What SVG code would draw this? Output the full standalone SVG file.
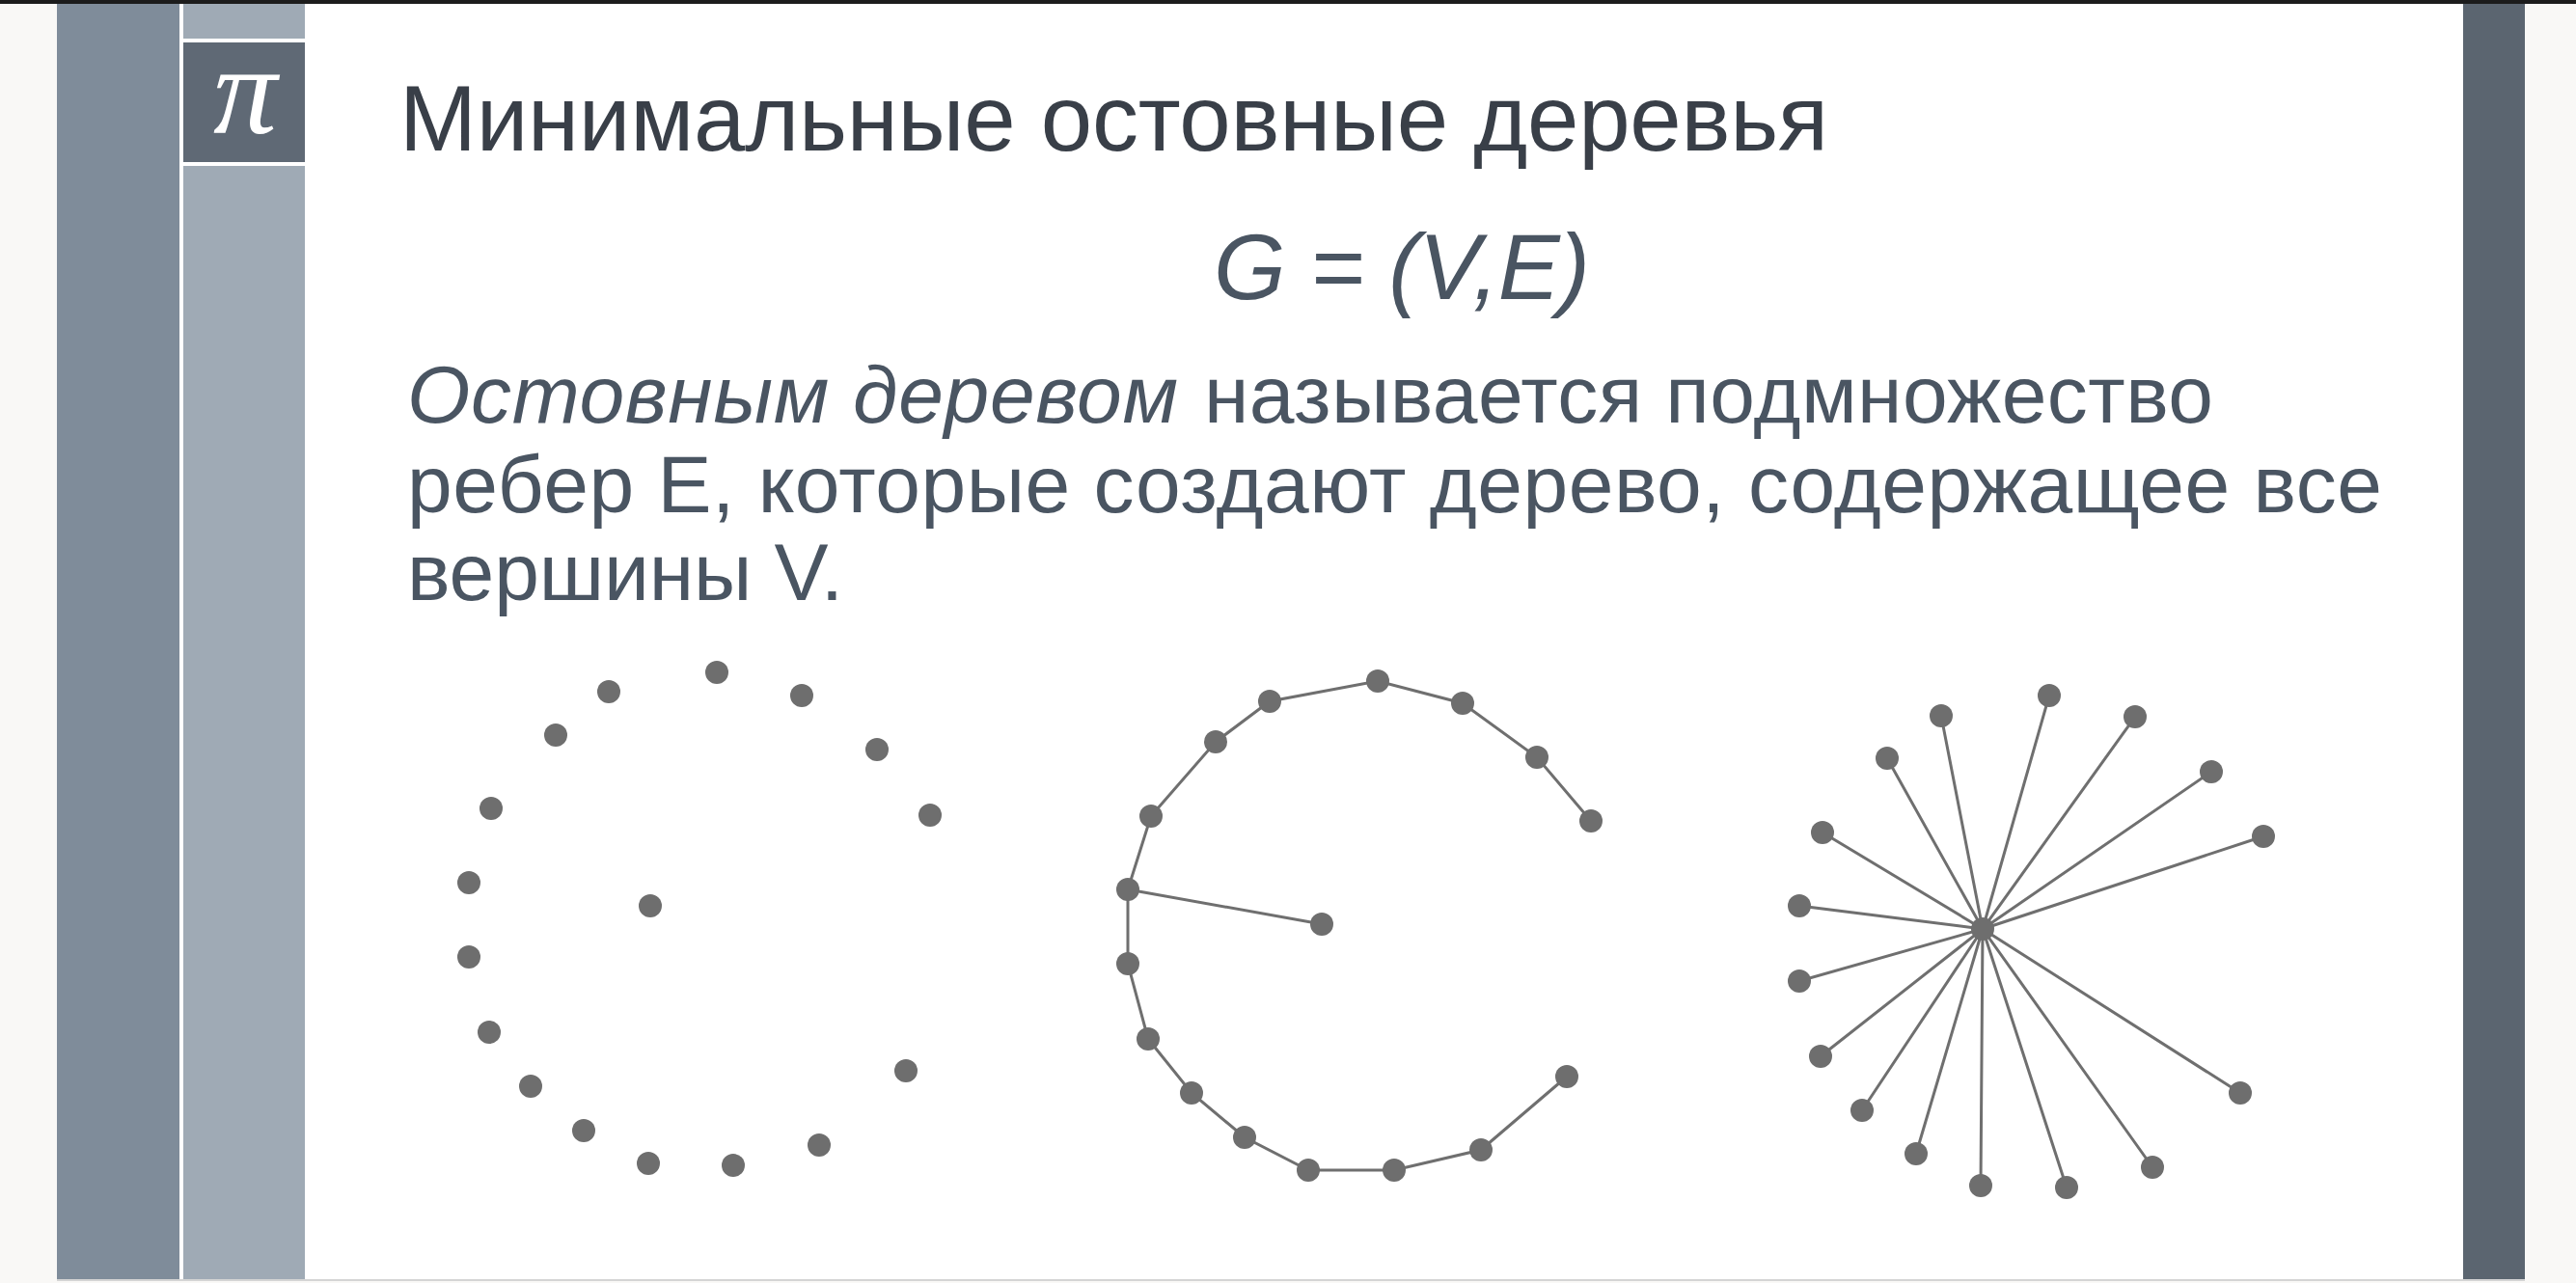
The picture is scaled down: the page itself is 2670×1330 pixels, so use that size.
<svg xmlns="http://www.w3.org/2000/svg" width="2670" height="1330" viewBox="0 0 2670 1330">
<style>
.t{font-family:"Liberation Sans",Arial,sans-serif;}
.title{font-size:96px;fill:#393f48;}
.body{font-size:84px;fill:#4a5562;}
.it{font-style:italic;}
.dot{fill:#6e6e6e;}
.edge{stroke:#6f6f6f;stroke-width:3;stroke-linecap:round;fill:none;}
</style>
<rect x="0" y="0" width="2670" height="1330" fill="#f9f8f6"/>
<rect x="0" y="0" width="2670" height="4" fill="#1c1c1c"/>
<rect x="59" y="4" width="2558" height="1322" fill="#ffffff"/>
<rect x="59" y="1326" width="2558" height="2" fill="#d4d4d4"/>
<g id="sidebar">
<rect x="59" y="4" width="127" height="1322" fill="#7f8c9a"/>
<rect x="190" y="4" width="126" height="36" fill="#9faab5"/>
<rect x="190" y="172" width="126" height="1154" fill="#9faab5"/>
</g>
<g id="pi-box">
<rect x="190" y="44" width="126" height="124" fill="#5f6975"/>
<text x="254" y="138" text-anchor="middle" font-family="'Liberation Serif','Times New Roman',serif" font-style="italic" font-size="132" fill="#ffffff">π</text>
</g>
<rect x="2553" y="4" width="64" height="1322" fill="#5b6570"/>

<g id="texts">
<text class="t title" x="414" y="156" textLength="1481">Минимальные остовные деревья</text>
<text class="t it" x="1258" y="310" font-size="96" fill="#4a5562" textLength="390">G = (V,E)</text>
<text class="t body it" x="422" y="438" textLength="799">Остовным деревом</text>
<text class="t body" x="1248" y="438" textLength="1046">называется подмножество</text>
<text class="t body" x="422" y="531" textLength="2047">ребер E, которые создают дерево, содержащее все</text>
<text class="t body" x="422" y="622" textLength="452">вершины V.</text>
</g>

<g id="connectors">
<polyline class="edge" points="1649,851 1593,785 1516,729 1428,706 1316,727 1260,769 1193,846 1169,922 1169,999 1190,1077 1235,1133 1290,1179 1356,1213 1445,1213 1535,1192 1624,1116"/>
<line class="edge" x1="1169" y1="922" x2="1370" y2="958"/>
<g>
<line class="edge" x1="2055" y1="963" x2="2124" y2="721"/>
<line class="edge" x1="2055" y1="963" x2="2012" y2="742"/>
<line class="edge" x1="2055" y1="963" x2="2213" y2="743"/>
<line class="edge" x1="2055" y1="963" x2="1956" y2="786"/>
<line class="edge" x1="2055" y1="963" x2="2292" y2="800"/>
<line class="edge" x1="2055" y1="963" x2="1889" y2="863"/>
<line class="edge" x1="2055" y1="963" x2="2346" y2="867"/>
<line class="edge" x1="2055" y1="963" x2="1865" y2="939"/>
<line class="edge" x1="2055" y1="963" x2="1865" y2="1017"/>
<line class="edge" x1="2055" y1="963" x2="1887" y2="1095"/>
<line class="edge" x1="2055" y1="963" x2="2322" y2="1133"/>
<line class="edge" x1="2055" y1="963" x2="1930" y2="1151"/>
<line class="edge" x1="2055" y1="963" x2="1986" y2="1196"/>
<line class="edge" x1="2055" y1="963" x2="2231" y2="1210"/>
<line class="edge" x1="2055" y1="963" x2="2053" y2="1229"/>
<line class="edge" x1="2055" y1="963" x2="2142" y2="1231"/>
</g>
</g>

<g id="graph-vertices">
<g id="a1"><circle class="dot" cx="743" cy="697" r="12"/></g>
<g id="a2"><circle class="dot" cx="631" cy="717" r="12"/></g>
<g id="a3"><circle class="dot" cx="831" cy="721" r="12"/></g>
<g id="a4"><circle class="dot" cx="576" cy="762" r="12"/></g>
<g id="a5"><circle class="dot" cx="909" cy="777" r="12"/></g>
<g id="a6"><circle class="dot" cx="509" cy="838" r="12"/></g>
<g id="a7"><circle class="dot" cx="964" cy="845" r="12"/></g>
<g id="a8"><circle class="dot" cx="486" cy="915" r="12"/></g>
<g id="a9"><circle class="dot" cx="674" cy="939" r="12"/></g>
<g id="a10"><circle class="dot" cx="486" cy="992" r="12"/></g>
<g id="a11"><circle class="dot" cx="507" cy="1070" r="12"/></g>
<g id="a12"><circle class="dot" cx="939" cy="1110" r="12"/></g>
<g id="a13"><circle class="dot" cx="550" cy="1126" r="12"/></g>
<g id="a14"><circle class="dot" cx="605" cy="1172" r="12"/></g>
<g id="a15"><circle class="dot" cx="849" cy="1187" r="12"/></g>
<g id="a16"><circle class="dot" cx="672" cy="1206" r="12"/></g>
<g id="a17"><circle class="dot" cx="760" cy="1208" r="12"/></g>

<g id="b1"><circle class="dot" cx="1428" cy="706" r="12"/></g>
<g id="b2"><circle class="dot" cx="1316" cy="727" r="12"/></g>
<g id="b3"><circle class="dot" cx="1516" cy="729" r="12"/></g>
<g id="b4"><circle class="dot" cx="1260" cy="769" r="12"/></g>
<g id="b5"><circle class="dot" cx="1593" cy="785" r="12"/></g>
<g id="b6"><circle class="dot" cx="1193" cy="846" r="12"/></g>
<g id="b7"><circle class="dot" cx="1649" cy="851" r="12"/></g>
<g id="b8"><circle class="dot" cx="1169" cy="922" r="12"/></g>
<g id="b9"><circle class="dot" cx="1370" cy="958" r="12"/></g>
<g id="b10"><circle class="dot" cx="1169" cy="999" r="12"/></g>
<g id="b11"><circle class="dot" cx="1190" cy="1077" r="12"/></g>
<g id="b12"><circle class="dot" cx="1624" cy="1116" r="12"/></g>
<g id="b13"><circle class="dot" cx="1235" cy="1133" r="12"/></g>
<g id="b14"><circle class="dot" cx="1290" cy="1179" r="12"/></g>
<g id="b15"><circle class="dot" cx="1535" cy="1192" r="12"/></g>
<g id="b16"><circle class="dot" cx="1356" cy="1213" r="12"/></g>
<g id="b17"><circle class="dot" cx="1445" cy="1213" r="12"/></g>

<g id="c0"><circle class="dot" cx="2055" cy="963" r="12"/></g>
<g id="c1"><circle class="dot" cx="2124" cy="721" r="12"/></g>
<g id="c2"><circle class="dot" cx="2012" cy="742" r="12"/></g>
<g id="c3"><circle class="dot" cx="2213" cy="743" r="12"/></g>
<g id="c4"><circle class="dot" cx="1956" cy="786" r="12"/></g>
<g id="c5"><circle class="dot" cx="2292" cy="800" r="12"/></g>
<g id="c6"><circle class="dot" cx="1889" cy="863" r="12"/></g>
<g id="c7"><circle class="dot" cx="2346" cy="867" r="12"/></g>
<g id="c8"><circle class="dot" cx="1865" cy="939" r="12"/></g>
<g id="c9"><circle class="dot" cx="1865" cy="1017" r="12"/></g>
<g id="c10"><circle class="dot" cx="1887" cy="1095" r="12"/></g>
<g id="c11"><circle class="dot" cx="2322" cy="1133" r="12"/></g>
<g id="c12"><circle class="dot" cx="1930" cy="1151" r="12"/></g>
<g id="c13"><circle class="dot" cx="1986" cy="1196" r="12"/></g>
<g id="c14"><circle class="dot" cx="2231" cy="1210" r="12"/></g>
<g id="c15"><circle class="dot" cx="2053" cy="1229" r="12"/></g>
<g id="c16"><circle class="dot" cx="2142" cy="1231" r="12"/></g>
</g>
</svg>
